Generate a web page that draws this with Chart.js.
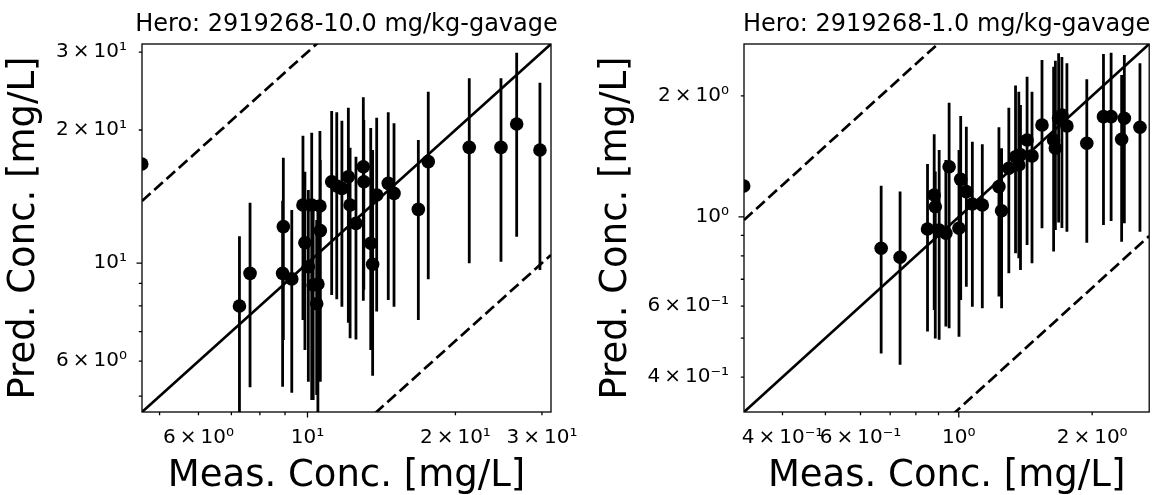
<!DOCTYPE html>
<html>
<head>
<meta charset="utf-8">
<script src="https://cdn.jsdelivr.net/npm/chart.js@4.4.1/dist/chart.umd.min.js"></script>
<style>
  html, body { margin: 0; padding: 0; background: #fff; }
  #wrap { position: relative; width: 1156px; height: 495px; overflow: hidden; }
  canvas { position: absolute; top: 0; }
</style>
</head>
<body>
<div id="wrap">
  <canvas id="dose10" width="578" height="495" style="left:0"></canvas>
  <canvas id="dose1" width="578" height="495" style="left:578px"></canvas>
</div>
<script>
// ---- 10.0 mg/kg gavage ----
const measured10  = [4.60, 7.27, 7.64, 8.90, 8.93, 9.29, 9.79, 9.88, 10.04, 10.20, 10.27, 10.44, 10.50, 10.60, 10.62,
                     11.20, 11.47, 11.75, 12.11, 12.21, 12.55, 12.99, 13.02, 13.45, 13.57, 13.83, 14.60, 15.00,
                     16.81, 17.61, 21.34, 24.76, 26.65, 29.72];
const predicted10 = [16.75, 8.00, 9.48, 9.48, 12.09, 9.21, 13.53, 11.12, 9.81, 13.53, 8.92, 8.09, 8.97, 13.46, 11.84,
                     15.28, 14.94, 14.76, 15.68, 13.53, 12.30, 16.52, 15.28, 11.09, 9.94, 14.26, 15.15, 14.38,
                     13.23, 16.96, 18.27, 18.27, 20.63, 18.02];
const predLow10   = [16.75, 4.20, 5.24, 5.25, 6.70, 5.09, 7.44, 6.36, 5.39, 4.90, 4.90, 5.03, 4.50, 6.64, 5.39,
                     8.47, 8.28, 7.97, 7.33, 6.76, 6.72, 8.22, 8.70, 6.36, 5.56, 7.77, 8.25, 7.97,
                     7.44, 9.19, 9.99, 10.07, 11.47, 9.65];
const predHigh10  = [16.75, 11.50, 13.70, 13.84, 17.31, 13.19, 19.42, 16.09, 14.63, 19.72, 13.53, 12.52, 13.89, 19.89, 17.11,
                     22.08, 21.93, 20.99, 22.46, 18.24, 17.40, 23.71, 21.07, 20.21, 18.02, 21.32, 21.93, 20.71,
                     18.98, 24.42, 26.18, 26.18, 29.91, 25.58];
const limits10     = [4.605, 31.3];
const tickValues10 = [5, 6, 7, 8, 9, 10, 20, 30];
const tickShown10  = [6, 10, 20, 30];
const tickText10   = ['6\u2009×\u200910⁰', '10¹', '2\u2009×\u200910¹', '3\u2009×\u200910¹'];

// ---- 1.0 mg/kg gavage ----
const measured1  = [0.327, 0.668, 0.737, 0.850, 0.880, 0.885, 0.903, 0.935, 0.951, 1.001, 1.010, 1.040, 1.073, 1.130,
                    1.232, 1.249, 1.297, 1.343, 1.366, 1.378, 1.426, 1.463, 1.541, 1.637, 1.652, 1.680, 1.709, 1.754,
                    1.945, 2.121, 2.207, 2.331, 2.364, 2.564];
const predicted1 = [1.194, 0.836, 0.794, 0.933, 1.134, 1.060, 0.928, 0.911, 1.333, 0.937, 1.240, 1.156, 1.077, 1.071,
                    1.189, 1.036, 1.321, 1.411, 1.346, 1.426, 1.553, 1.418, 1.692, 1.553, 1.481, 1.759, 1.792, 1.683,
                    1.524, 1.775, 1.775, 1.560, 1.759, 1.670];
const predLow1   = [1.194, 0.458, 0.429, 0.519, 0.587, 0.499, 0.495, 0.534, 0.529, 0.504, 0.622, 0.671, 0.598, 0.593,
                    0.634, 0.593, 0.724, 0.812, 0.789, 0.738, 0.852, 0.767, 0.937, 0.820, 0.928, 0.968, 0.939, 0.919,
                    0.863, 0.955, 0.977, 0.868, 0.964, 0.919];
const predHigh1  = [1.194, 1.196, 1.156, 1.354, 1.605, 1.296, 1.467, 1.385, 1.922, 1.467, 1.781, 1.676, 1.538, 1.515,
                    1.670, 1.481, 1.868, 2.120, 2.048, 1.897, 2.231, 2.048, 2.455, 2.362, 2.445, 2.551, 2.497, 2.409,
                    2.198, 2.541, 2.560, 2.253, 2.527, 2.409];
const limits1     = [0.3275, 2.69];
const tickValues1 = [0.4, 0.5, 0.6, 0.7, 0.8, 0.9, 1, 2];
const tickShown1  = [0.4, 0.6, 1, 2];
const tickText1   = ['4\u2009×\u200910⁻¹', '6\u2009×\u200910⁻¹', '10⁰', '2\u2009×\u200910⁰'];

const panelTitles = ['Hero: 2919268-10.0 mg/kg-gavage', 'Hero: 2919268-1.0 mg/kg-gavage'];
const foldFactor = 3;

const FONT = 'DejaVu Sans';

const isDecade = v => Math.abs(Math.log10(v) - Math.round(Math.log10(v))) < 1e-9;

// Box outline plus major/minor tick marks, placed through the chart scales
const axisFrame = {
  id: 'axisFrame',
  afterDatasetsDraw(chart, args, opts) {
    const { ctx, chartArea: a, scales } = chart;
    ctx.save();
    ctx.strokeStyle = '#000';
    ctx.lineWidth = 1.3;
    ctx.strokeRect(a.left, a.top, a.right - a.left, a.bottom - a.top);
    ctx.beginPath();
    for (const v of opts.ticks) {
      const len = isDecade(v) ? 5.5 : 3.2;
      const px = scales.x.getPixelForValue(v);
      const py = scales.y.getPixelForValue(v);
      ctx.moveTo(px, a.bottom); ctx.lineTo(px, a.bottom + len);
      ctx.moveTo(a.left, py); ctx.lineTo(a.left - len, py);
    }
    ctx.stroke();
    ctx.restore();
  }
};

// Title centred over the plotting box
const panelTitle = {
  id: 'panelTitle',
  afterDraw(chart, args, opts) {
    const { ctx, chartArea: a } = chart;
    ctx.save();
    ctx.font = opts.size + 'px "' + FONT + '"';
    ctx.fillStyle = '#000';
    ctx.textAlign = 'center';
    ctx.textBaseline = 'alphabetic';
    ctx.fillText(opts.text, (a.left + a.right) / 2, opts.baseline);
    ctx.restore();
  }
};

function buildPanel(id, meas, pred, low, high, limits, tickValues, tickShown, tickText, title, pad) {
  const points = meas.map((x, i) => ({ x, y: pred[i] }));
  const bars = [];
  meas.forEach((x, i) => {
    bars.push({ x, y: low[i] }, { x, y: high[i] }, { x, y: null });
  });
  const foldLine = f => limits.map(v => ({ x: v, y: v * f }));
  const label = v => {
    const k = tickShown.findIndex(t => Math.abs(t - v) < 1e-9 * t);
    return k >= 0 ? tickText[k] : '';
  };
  const tickFont = { family: FONT, size: 20 };
  const axisTitleFont = { family: FONT, size: 37 };
  const common = {
    type: 'logarithmic',
    min: limits[0],
    max: limits[1],
    bounds: 'data',
    afterBuildTicks: s => { s.ticks = tickValues.map(v => ({ value: v })); },
    grid: { display: false, drawTicks: false },
    border: { display: false }
  };

  return new Chart(document.getElementById(id), {
    type: 'scatter',
    data: {
      datasets: [
        { data: points, pointRadius: 6.8, pointHoverRadius: 6.8, backgroundColor: '#000', borderWidth: 0, order: 0 },
        { data: bars, showLine: true, spanGaps: false, pointRadius: 0, borderColor: '#000', borderWidth: 2.8, order: 1 },
        { data: foldLine(1), showLine: true, pointRadius: 0, borderColor: '#000', borderWidth: 2.7, order: 2 },
        { data: foldLine(foldFactor), showLine: true, pointRadius: 0, borderColor: '#000', borderWidth: 2.7, borderDash: [11.5, 5], order: 2 },
        { data: foldLine(1 / foldFactor), showLine: true, pointRadius: 0, borderColor: '#000', borderWidth: 2.7, borderDash: [11.5, 5], order: 2 }
      ]
    },
    options: {
      responsive: false,
      animation: false,
      devicePixelRatio: 1,
      events: [],
      layout: { padding: { left: 0, right: pad.right, top: 44, bottom: 0 } },
      plugins: {
        legend: { display: false },
        tooltip: { enabled: false },
        title: { display: false },
        axisFrame: { ticks: tickValues },
        panelTitle: { text: title, size: 24, baseline: 31 }
      },
      scales: {
        x: Object.assign({}, common, {
          position: 'bottom',
          afterFit: s => { s.height = 83; s.paddingLeft = 0; s.paddingRight = 0; },
          ticks: { autoSkip: false, maxRotation: 0, minRotation: 0, padding: 14, color: '#000', font: tickFont, callback: label },
          title: { display: true, text: 'Meas. Conc. [mg/L]', color: '#000', font: axisTitleFont, padding: { top: 0, bottom: -4 } }
        }),
        y: Object.assign({}, common, {
          position: 'left',
          afterFit: s => { s.width = pad.axis; s.paddingTop = 0; s.paddingBottom = 0; },
          ticks: { autoSkip: false, padding: 15, color: '#000', font: tickFont, callback: label },
          title: { display: true, text: 'Pred. Conc. [mg/L]', color: '#000', font: axisTitleFont, padding: { top: pad.titleX, bottom: 0 } }
        })
      }
    },
    plugins: [axisFrame, panelTitle]
  });
}

buildPanel('dose10', measured10, predicted10, predLow10, predHigh10, limits10,
           tickValues10, tickShown10, tickText10, panelTitles[0], { right: 27, axis: 142, titleX: 2 });
buildPanel('dose1', measured1, predicted1, predLow1, predHigh1, limits1,
           tickValues1, tickShown1, tickText1, panelTitles[1], { right: 5, axis: 166, titleX: 16 });
</script>
</body>
</html>
